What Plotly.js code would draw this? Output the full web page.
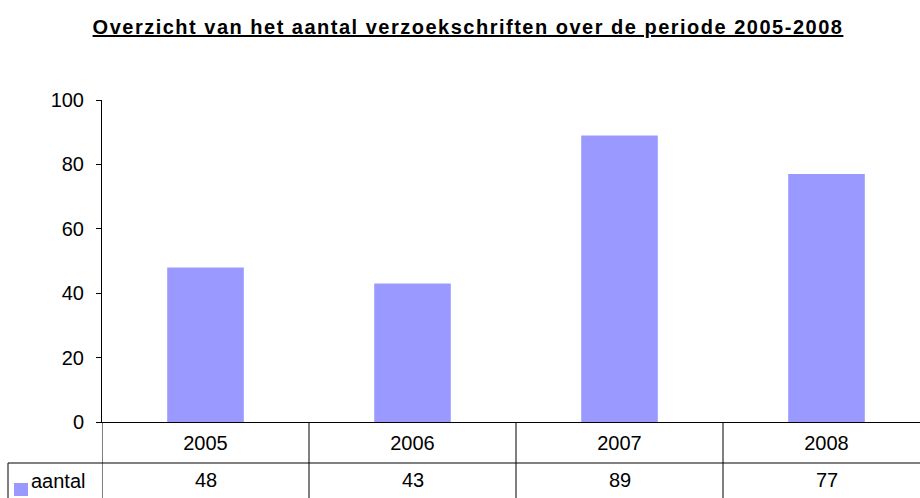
<!DOCTYPE html>
<html><head><meta charset="utf-8">
<script src="https://cdn.plot.ly/plotly-3.0.1.min.js"></script>
<style>html,body{margin:0;padding:0;overflow:hidden;background:#fff}</style>
</head><body>
<div id="chart" style="width:920px;height:498px"></div>
<script>
var years = ['2005', '2006', '2007', '2008'];
var aantal = [48, 43, 89, 77];
var seriesName = 'aantal';
var yTicks = [0, 20, 40, 60, 80, 100];
var titleText = 'Overzicht van het aantal verzoekschriften over de periode 2005-2008';

var W = 920, H = 498, L = 102, T = 100, B = 76;
var plotW = W - L, plotH = H - T - B;
function px2x(px){ return (px - L) / plotW; }
function py2y(py){ return (H - B - py) / plotH; }

var font = 'Arial, "Liberation Sans", sans-serif';
var barColor = '#9999FF';
var fs = 20;

var shapes = [];
var lineStyle = {color: '#000', width: 1};
shapes.push({type:'line', xref:'x', yref:'paper', x0:-0.5, x1:-0.5, y0:0, y1:py2y(H+5), line:lineStyle});
for (var i = 0; i < years.length; i++) {
  shapes.push({type:'line', xref:'x', yref:'paper', x0:i+0.5, x1:i+0.5, y0:0, y1:py2y(H+5), line:lineStyle});
}
shapes.push({type:'line', xref:'paper', yref:'paper', x0:px2x(8), x1:1, y0:py2y(463), y1:py2y(463), line:lineStyle});
shapes.push({type:'line', xref:'paper', yref:'paper', x0:px2x(8), x1:px2x(8), y0:py2y(463), y1:py2y(H+5), line:lineStyle});
shapes.push({type:'rect', xref:'paper', yref:'paper', x0:px2x(14), x1:px2x(28), y0:py2y(496), y1:py2y(483), fillcolor:barColor, line:{width:0}});

var annotations = [];
for (var j = 0; j < years.length; j++) {
  annotations.push({xref:'x', yref:'paper', x:j, y:py2y(480), text:String(aantal[j]), showarrow:false,
    font:{family:font, size:fs, color:'#000'}, xanchor:'center', yanchor:'middle'});
}
annotations.push({xref:'paper', yref:'paper', x:px2x(29), y:py2y(481), text:seriesName, showarrow:false,
  font:{family:font, size:fs, color:'#000'}, xanchor:'left', yanchor:'middle'});

var data = [{
  type:'bar', x:years.map(function(d,i){return i;}), y:aantal, name:seriesName,
  marker:{color:barColor, line:{width:0}}, hoverinfo:'skip'
}];

var layout = {
  width:W, height:H,
  margin:{l:L, r:0, t:T, b:B, pad:0},
  paper_bgcolor:'#fff', plot_bgcolor:'#fff',
  showlegend:false,
  bargap:0.63,
  title:{text:'<b><u><span style="letter-spacing:1.5px">' + titleText + '</span></u></b>', x:468/W, xref:'container', xanchor:'center',
    y:1 - 27/H, yref:'container', yanchor:'middle', font:{family:font, size:20, color:'#000'}},
  xaxis:{range:[-0.5, -0.5 + plotW/207], tickmode:'array', tickvals:[0,1,2,3], ticktext:years,
    showgrid:false, zeroline:false, showline:true, linecolor:'#000', linewidth:1, ticks:'',
    tickfont:{family:font, size:fs, color:'#000'}, ticklabelstandoff:3, fixedrange:true},
  yaxis:{range:[0,100], tickmode:'array', tickvals:yTicks, showgrid:false, zeroline:false,
    showline:true, linecolor:'#000', linewidth:1, ticks:'outside', ticklen:5, tickcolor:'#000',
    tickfont:{family:font, size:fs, color:'#000'}, ticklabelstandoff:8, fixedrange:true},
  shapes:shapes, annotations:annotations
};

Plotly.newPlot('chart', data, layout, {displayModeBar:false, staticPlot:true});
</script>
</body></html>
